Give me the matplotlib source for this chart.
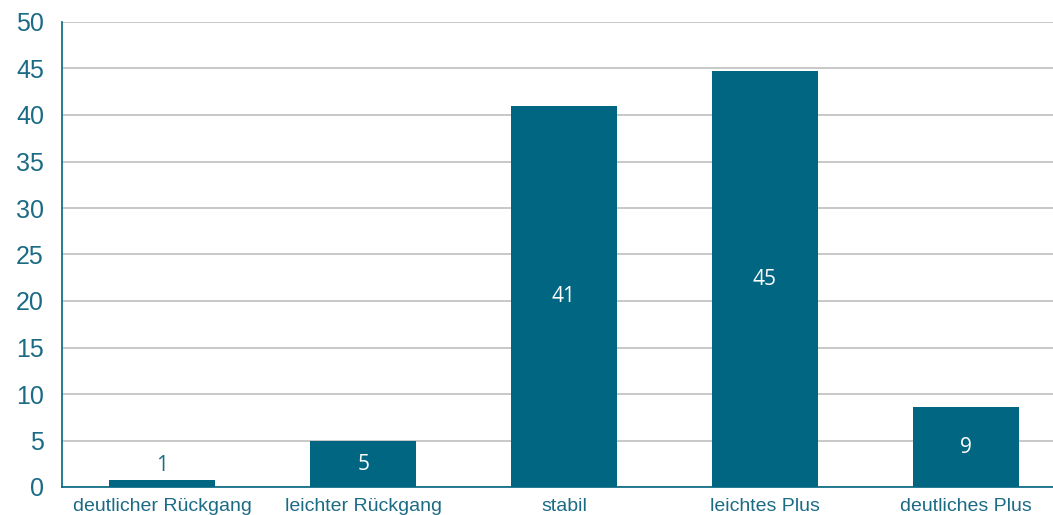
import matplotlib.pyplot as plt
import numpy as np

categories = ["deutlicher Rückgang", "leichter Rückgang", "stabil", "leichtes Plus", "deutliches Plus"]
values = [0.7, 4.9, 41.0, 44.7, 8.6]
yticks = [0, 5, 10, 15, 20, 25, 30, 35, 40, 45, 50]

teal = "#006682"
textcol = "#1B6B85"

fig = plt.figure(figsize=(10.53, 5.15), dpi=100)
# plot area runs a little past the right edge of the image
ax = fig.add_axes([62 / 1053, 28 / 515, 1004 / 1053, 465 / 515])

x = np.arange(len(categories))
bars = ax.bar(x, values, width=0.528, color=teal, zorder=3)

for xi, v in zip(x, values):
    lab = str(int(round(v)))
    if v < 3:
        ax.text(xi, v + 0.5, lab, ha="center", va="bottom", color=textcol,
                fontsize=15, family="Open Sans")
    else:
        ax.text(xi, v / 2, lab, ha="center", va="center", color="white",
                fontsize=15, family="Open Sans")

ax.set_xlim(-0.5, len(categories) - 0.5)
ax.set_ylim(0, 50)
ax.set_yticks(yticks)
ax.set_xticks(x)
ax.set_xticklabels(categories, family="Liberation Sans", fontsize=14, color=textcol)
for t in ax.get_yticklabels():
    t.set_family("Liberation Sans")
    t.set_fontsize(18)
    t.set_color(textcol)
ax.tick_params(axis="both", length=0)
ax.tick_params(axis="y", pad=13)
ax.tick_params(axis="x", pad=8)

ax.yaxis.grid(True, color="#BFBFBF", linewidth=1.2, zorder=0)
ax.set_axisbelow(True)
for s in ["top", "right"]:
    ax.spines[s].set_visible(False)
ax.spines["left"].set_color(teal)
ax.spines["bottom"].set_color(teal)
ax.spines["left"].set_linewidth(1.2)
ax.spines["bottom"].set_linewidth(1.2)

fig.savefig("out.png", dpi=100)
